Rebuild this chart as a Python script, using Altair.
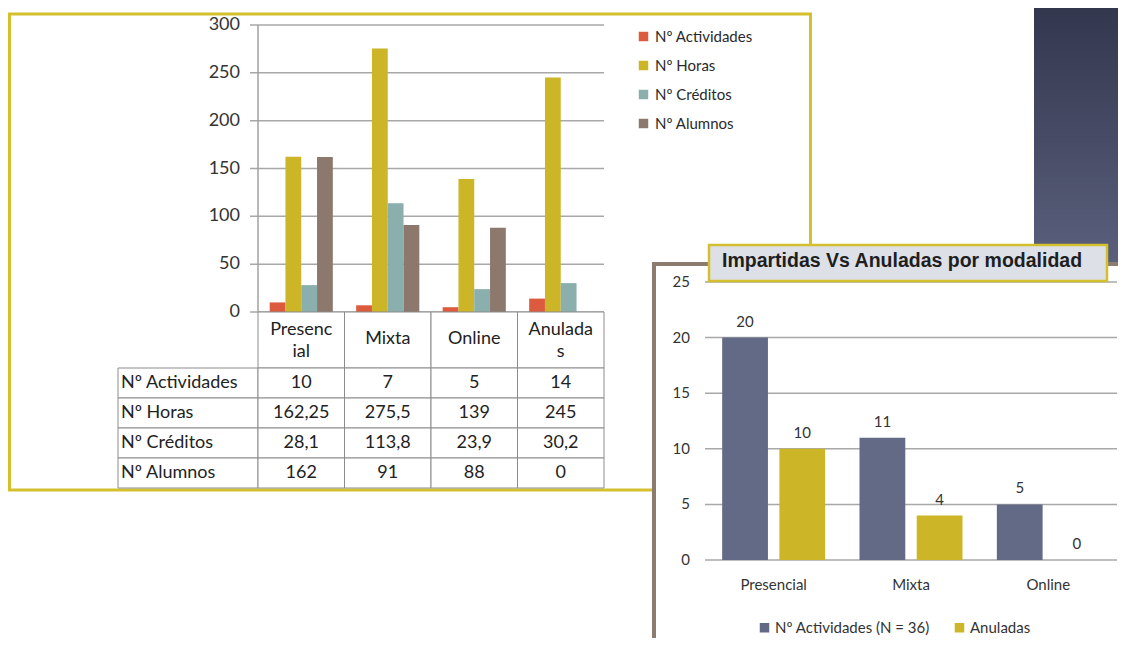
import altair as alt
import pandas as pd

# ---------------- data ----------------
categories = ["Presencial", "Mixta", "Online", "Anuladas"]
header_labels = ["Presenc\nial", "Mixta", "Online", "Anulada\ns"]
series = ["Nº Actividades", "Nº Horas", "Nº Créditos", "Nº Alumnos"]
actividades = [10, 7, 5, 14]
horas = [162.25, 275.5, 139, 245]
creditos = [28.1, 113.8, 23.9, 30.2]
alumnos = [162, 91, 88, 0]
left_ticks = [0, 50, 100, 150, 200, 250, 300]
left_colors = ["#dc5b3e", "#ccb526", "#8aafad", "#8c786c"]

modalidades = ["Presencial", "Mixta", "Online"]
series2 = ["Nº Actividades (N = 36)", "Anuladas"]
impartidas = [20, 11, 5]
anuladas = [10, 4, 0]
right_ticks = [0, 5, 10, 15, 20, 25]
right_colors = ["#626a86", "#ccb526"]
title2 = "Impartidas Vs Anuladas por modalidad"

GOLD = "#d4bf2c"
FONT = "Lato"

# ---------------- tables ----------------
left_values = [actividades, horas, creditos, alumnos]
rows = []
for s, vals in zip(series, left_values):
    for c, v in zip(categories, vals):
        rows.append({"cat": c, "serie": s, "valor": v,
                     "label": f"{v:g}".replace(".", ",")})
df_left = pd.DataFrame(rows)
df_header = pd.DataFrame({"cat": categories, "header": header_labels,
                          "wrap": ["\n" in h for h in header_labels]})
df_head1 = df_header[~df_header["wrap"]]
df_head2 = df_header[df_header["wrap"]]
df_rows = pd.DataFrame({"serie": series})
df_lt = pd.DataFrame({"v": left_ticks})

rows2 = []
for s, vals in zip(series2, [impartidas, anuladas]):
    for c, v in zip(modalidades, vals):
        rows2.append({"cat": c, "serie": s, "valor": v})
df_right = pd.DataFrame(rows2)
df_rt = pd.DataFrame({"v": right_ticks})
df_mod = pd.DataFrame({"cat": modalidades})


def one():
    return alt.Chart(pd.DataFrame({"k": [0]}))


# ---------------- background frames ----------------
left_frame = one().mark_rect(fillOpacity=0, stroke=GOLD, strokeWidth=3).encode(
    x=alt.value(1.5), x2=alt.value(802.5), y=alt.value(6), y2=alt.value(482))

dark_panel = one().mark_rect(
    color=alt.Gradient(gradient="linear",
                       stops=[alt.GradientStop(color="#33374e", offset=0),
                              alt.GradientStop(color="#5a5f7c", offset=1)],
                       x1=0, x2=0, y1=0, y2=1)
).encode(x=alt.value(1026), x2=alt.value(1110), y=alt.value(0), y2=alt.value(254))

# ---------------- left chart ----------------
xs_left = alt.Scale(domain=categories, range=[250, 596], paddingInner=0.27, paddingOuter=0.135)
ys_left = alt.Scale(domain=[0, 300], range=[304, 17], nice=False)

grid_left = alt.Chart(df_lt).mark_rule(color="#a8a8a8", strokeWidth=1.5).encode(
    y=alt.Y("v:Q", scale=ys_left, axis=None), x=alt.value(242), x2=alt.value(596))
axis_left = one().mark_rule(color="#a0a0a0", strokeWidth=1.5).encode(
    x=alt.value(250), y=alt.value(17), y2=alt.value(304))
ticklab_left = alt.Chart(df_lt).mark_text(
    align="right", baseline="middle", font=FONT, fontSize=18, color="#333333"
).encode(y=alt.Y("v:Q", scale=ys_left, axis=None), x=alt.value(232), text="v:Q")

bars_left = alt.Chart(df_left).mark_bar().encode(
    x=alt.X("cat:N", scale=xs_left, axis=None),
    xOffset=alt.XOffset("serie:N", scale=alt.Scale(domain=series, paddingInner=0, paddingOuter=0)),
    y=alt.Y("valor:Q", scale=ys_left, axis=None),
    color=alt.Color("serie:N", scale=alt.Scale(domain=series, range=left_colors),
                    legend=alt.Legend(orient="none", legendX=628, legendY=21, title=None,
                                      symbolType="square", symbolSize=90, symbolStrokeWidth=0,
                                      labelFont=FONT, labelFontSize=15, labelColor="#2a2a2a",
                                      rowPadding=13, labelOffset=4, padding=0, labelLimit=300)),
)
left_group = alt.layer(grid_left, axis_left, ticklab_left, bars_left)

# ---------------- data table ----------------
xs_tab = alt.Scale(domain=categories, range=[250, 596], paddingInner=0, paddingOuter=0)
ys_tab = alt.Scale(domain=series, range=[360, 480], paddingInner=0, paddingOuter=0)
cell_style = dict(fill="white", stroke="#8c8c8c", strokeWidth=1)

cells = alt.Chart(df_left).mark_rect(**cell_style).encode(
    x=alt.X("cat:N", scale=xs_tab, axis=None), y=alt.Y("serie:N", scale=ys_tab, axis=None))
head_cells = alt.Chart(df_header).mark_rect(**cell_style).encode(
    x=alt.X("cat:N", scale=xs_tab, axis=None), y=alt.value(304), y2=alt.value(360))
row_cells = alt.Chart(df_rows).mark_rect(**cell_style).encode(
    y=alt.Y("serie:N", scale=ys_tab, axis=None), x=alt.value(110), x2=alt.value(250))
cell_text = alt.Chart(df_left).mark_text(
    font=FONT, fontSize=18, color="#222222", baseline="middle").encode(
    x=alt.X("cat:N", scale=xs_tab, axis=None), y=alt.Y("serie:N", scale=ys_tab, axis=None),
    text="label:N")
head_text1 = alt.Chart(df_head1).mark_text(
    font=FONT, fontSize=18, color="#222222", baseline="middle"
).encode(x=alt.X("cat:N", scale=xs_tab, axis=None), y=alt.value(331), text="header:N")
head_text2 = alt.Chart(df_head2).mark_text(
    font=FONT, fontSize=18, color="#222222", baseline="middle", lineBreak="\n", lineHeight=22
).encode(x=alt.X("cat:N", scale=xs_tab, axis=None), y=alt.value(322), text="header:N")
row_text = alt.Chart(df_rows).mark_text(
    font=FONT, fontSize=18, color="#222222", baseline="middle", align="left"
).encode(y=alt.Y("serie:N", scale=ys_tab, axis=None), x=alt.value(113), text="serie:N")
table_group = alt.layer(head_cells, row_cells, cells, cell_text, head_text1, head_text2, row_text)

# ---------------- right panel ----------------
right_bg = one().mark_rect(fill="white").encode(
    x=alt.value(644), x2=alt.value(1110), y=alt.value(254), y2=alt.value(630))
right_left_border = one().mark_rule(color="#8c7b6f", strokeWidth=4).encode(
    x=alt.value(646), y=alt.value(254), y2=alt.value(630))
right_top_border = one().mark_rule(color="#8c7b6f", strokeWidth=4).encode(
    y=alt.value(256), x=alt.value(644), x2=alt.value(1110))

xs_right = alt.Scale(domain=modalidades, range=[697, 1109], paddingInner=0.25, paddingOuter=0.125)
ys_right = alt.Scale(domain=[0, 25], range=[552, 274], nice=False)
xo_right = alt.Scale(domain=series2, paddingInner=0.2, paddingOuter=0)

grid_right = alt.Chart(df_rt).mark_rule(color="#a8a8a8", strokeWidth=1.5).encode(
    y=alt.Y("v:Q", scale=ys_right, axis=None), x=alt.value(697), x2=alt.value(1109))
ticklab_right = alt.Chart(df_rt).mark_text(
    align="right", baseline="middle", font=FONT, fontSize=15, color="#333333"
).encode(y=alt.Y("v:Q", scale=ys_right, axis=None), x=alt.value(682), text="v:Q")
bars_right = alt.Chart(df_right).mark_bar().encode(
    x=alt.X("cat:N", scale=xs_right, axis=None),
    xOffset=alt.XOffset("serie:N", scale=xo_right),
    y=alt.Y("valor:Q", scale=ys_right, axis=None),
    color=alt.Color("serie:N", scale=alt.Scale(domain=series2, range=right_colors),
                    legend=alt.Legend(orient="none", direction="horizontal", legendX=749,
                                      legendY=612, title=None, symbolType="square",
                                      symbolSize=90, symbolStrokeWidth=0, labelFont=FONT,
                                      labelFontSize=15, labelColor="#333333", labelOffset=3,
                                      columnPadding=22, padding=0, labelLimit=300)),
)
barlab_right = alt.Chart(df_right).mark_text(
    font=FONT, fontSize=15, color="#333333", baseline="alphabetic", dy=-11
).encode(
    x=alt.X("cat:N", scale=xs_right, axis=None),
    xOffset=alt.XOffset("serie:N", scale=xo_right),
    y=alt.Y("valor:Q", scale=ys_right, axis=None),
    text="valor:Q",
)
xlab_right = alt.Chart(df_mod).mark_text(
    font=FONT, fontSize=15, color="#333333", baseline="middle"
).encode(x=alt.X("cat:N", scale=xs_right, axis=None), y=alt.value(577), text="cat:N")
right_group = alt.layer(grid_right, ticklab_right, bars_right, barlab_right, xlab_right)

title_box = one().mark_rect(fill="#dde0e6", stroke=GOLD, strokeWidth=2.5).encode(
    x=alt.value(701), x2=alt.value(1099), y=alt.value(237), y2=alt.value(273))
title_text = one().mark_text(
    align="left", baseline="alphabetic", font="Liberation Sans", fontWeight="bold",
    fontSize=19.5, color="#1e1e1e"
).encode(x=alt.value(714), y=alt.value(259), text=alt.value(title2))

chart = alt.layer(
    left_frame, dark_panel, left_group, table_group,
    right_bg, right_left_border, right_top_border, right_group,
    title_box, title_text,
).resolve_scale(
    x="independent", y="independent", color="independent", xOffset="independent"
).properties(
    width=1110, height=630, autosize=alt.AutoSizeParams(type="none"), padding=0,
    background="white",
).configure_view(strokeWidth=0)

chart.save("out.html", embed_options={"renderer": "svg", "actions": False})
